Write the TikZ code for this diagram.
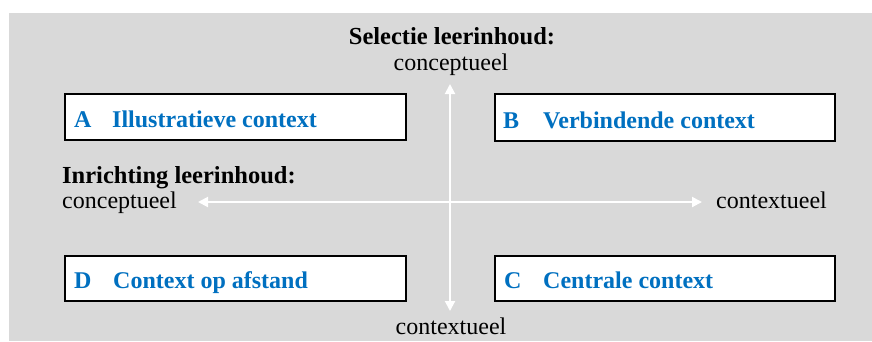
\documentclass[tikz,border=0pt]{standalone}
\usepackage{fontspec}
\setmainfont{Liberation Serif}
\usetikzlibrary{arrows.meta}
\definecolor{panelgrey}{HTML}{D9D9D9}
\definecolor{ctxblue}{HTML}{0070C0}
\begin{document}
\begin{tikzpicture}[x=1pt,y=-1pt,
  quadbox/.style={draw=black,line width=2pt,fill=white},
  quadletter/.style={anchor=base west,inner sep=0pt,text=ctxblue,font=\fontsize{24}{28}\selectfont\bfseries},
  quadtitle/.style={anchor=base west,inner sep=0pt,text=ctxblue,font=\fontsize{24}{28}\selectfont\bfseries},
  axislabel/.style={inner sep=0pt,font=\fontsize{24}{28}\selectfont},
  axishead/.style={inner sep=0pt,font=\fontsize{24.5}{28}\selectfont\bfseries},
  axisline/.style={draw=white,line width=2pt,-{Triangle[width=10pt,length=10pt]}}]
  % canvas and grey panel
  \useasboundingbox (0,0) rectangle (872,341);
  \fill[white] (0,0) rectangle (872,341);
  \fill[panelgrey] (9,13) rectangle (872,341);

  % four quadrant boxes
  \draw[quadbox] (65,94) rectangle (406,140);
  \draw[quadbox] (495,94) rectangle (835,141);
  \draw[quadbox] (65,256) rectangle (406,301);
  \draw[quadbox] (495,256) rectangle (835,301);

  \node[quadletter] (lA) at (74,127) {A};
  \node[quadtitle]  (tA) at (112,127) {Illustratieve context};
  \node[quadletter] (lB) at (503,128) {B};
  \node[quadtitle]  (tB) at (543,128) {Verbindende context};
  \node[quadletter] (lD) at (74,288) {D};
  \node[quadtitle]  (tD) at (113,288) {Context op afstand};
  \node[quadletter] (lC) at (504,288) {C};
  \node[quadtitle]  (tC) at (543,288) {Centrale context};

  % vertical axis: selection of content
  \node[axishead,anchor=base] (selhead) at (452,44) {Selectie leerinhoud:};
  \node[axislabel,anchor=base] (seltop) at (451,70) {conceptueel};
  \node[axislabel,anchor=base] (selbot) at (451,334) {contextueel};
  \coordinate (vtop) at (450,84);
  \coordinate (vbot) at (450,311);
  \coordinate (vmid) at (450,202);
  \draw[axisline] (vmid) -- (vtop);
  \draw[axisline] (vmid) -- (vbot);

  % horizontal axis: arrangement of content
  \node[axishead,anchor=base west] (arrhead) at (62,183) {Inrichting leerinhoud:};
  \node[axislabel,anchor=base west] (arrleft) at (62,208) {conceptueel};
  \node[axislabel,anchor=base west] (arrright) at (716,208) {contextueel};
  \coordinate (hleft) at (198,202);
  \coordinate (hright) at (702,202);
  \draw[axisline] (vmid) -- (hleft);
  \draw[axisline] (vmid) -- (hright);
\end{tikzpicture}
\end{document}
